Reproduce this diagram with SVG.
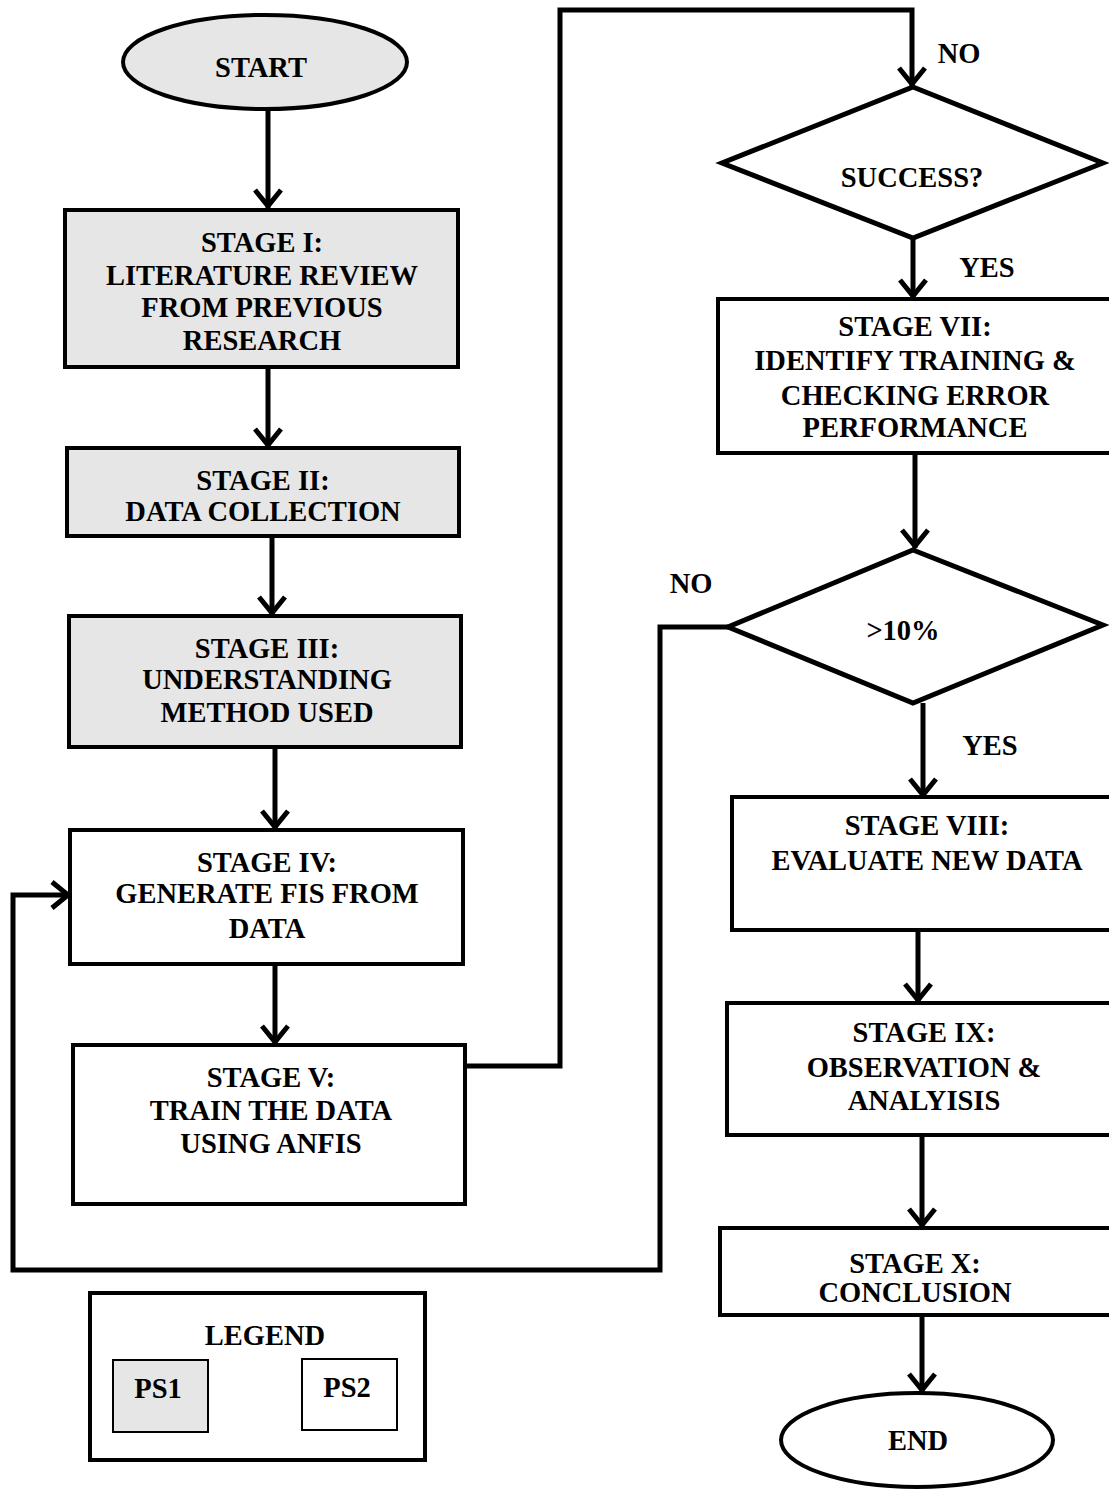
<svg xmlns="http://www.w3.org/2000/svg" width="1109" height="1490" viewBox="0 0 1109 1490">
  <style>
    .t { font-family: "Liberation Serif", "Times New Roman", serif; font-weight: bold; font-size: 28.5px; fill: #000; text-anchor: middle; }
    .box { stroke: #000; stroke-width: 4; }
    .ps1 { fill: #e6e6e6; }
    .ps2 { fill: #fff; }
    .dia { fill: #fff; stroke: #000; stroke-width: 5; stroke-linejoin: miter; }
    .conn { fill: none; stroke: #000; stroke-width: 5; }
    .arr { marker-end: url(#ah); }
  </style>
  <defs>
    <marker id="ah" markerUnits="userSpaceOnUse" viewBox="-22 -16 24 32" markerWidth="24" markerHeight="32" refX="0" refY="0" orient="auto" overflow="visible">
      <path d="M-18,-13 L-2,0 L-18,13" fill="none" stroke="#000" stroke-width="5"/>
    </marker>
  </defs>
  <rect width="1109" height="1490" fill="#fff"/>

  <g id="connectors">
    <path class="conn arr" d="M268,110 V208"/>
    <path class="conn arr" d="M268,368 V447"/>
    <path class="conn arr" d="M272,537 V615"/>
    <path class="conn arr" d="M275,748 V829"/>
    <path class="conn arr" d="M275,965 V1044"/>
    <path class="conn arr" d="M465,1066 H560 V10 H912 V86"/>
    <path class="conn arr" d="M913,238 V298"/>
    <path class="conn arr" d="M915,453 V548"/>
    <path class="conn arr" d="M923,703 V797"/>
    <path class="conn arr" d="M728,627 H660 V1270 H13 V895 H70"/>
    <path class="conn arr" d="M918,930 V1002"/>
    <path class="conn arr" d="M922,1135 V1227"/>
    <path class="conn arr" d="M922,1315 V1392"/>
  </g>

  <g id="start">
    <ellipse cx="265" cy="62" rx="142" ry="47" class="box ps1"/>
    <text class="t" x="261" y="77">START</text>
  </g>

  <g id="stage1">
    <rect x="65" y="210" width="393" height="157" class="box ps1"/>
    <text class="t" x="262" y="252">STAGE I:</text>
    <text class="t" x="262" y="285">LITERATURE REVIEW</text>
    <text class="t" x="262" y="317">FROM PREVIOUS</text>
    <text class="t" x="262" y="350">RESEARCH</text>
  </g>

  <g id="stage2">
    <rect x="67" y="448" width="392" height="88" class="box ps1"/>
    <text class="t" x="263" y="490">STAGE II:</text>
    <text class="t" x="263" y="521">DATA COLLECTION</text>
  </g>

  <g id="stage3">
    <rect x="69" y="616" width="392" height="131" class="box ps1"/>
    <text class="t" x="267" y="658">STAGE III:</text>
    <text class="t" x="267" y="689">UNDERSTANDING</text>
    <text class="t" x="267" y="722">METHOD USED</text>
  </g>

  <g id="stage4">
    <rect x="70" y="830" width="393" height="134" class="box ps2"/>
    <text class="t" x="267" y="872">STAGE IV:</text>
    <text class="t" x="267" y="903">GENERATE FIS FROM</text>
    <text class="t" x="267" y="938">DATA</text>
  </g>

  <g id="stage5">
    <rect x="73" y="1045" width="392" height="159" class="box ps2"/>
    <text class="t" x="271" y="1087">STAGE V:</text>
    <text class="t" x="271" y="1120">TRAIN THE DATA</text>
    <text class="t" x="271" y="1153">USING ANFIS</text>
  </g>

  <g id="success">
    <polygon class="dia" points="913,87 1103,163 913,238 722,163"/>
    <text class="t" x="912" y="187">SUCCESS?</text>
  </g>
  <g id="label-no-1"><text class="t" x="959" y="63">NO</text></g>
  <g id="label-yes-1"><text class="t" x="987" y="277">YES</text></g>

  <g id="stage7">
    <rect x="718" y="299" width="420" height="154" class="box ps2"/>
    <text class="t" x="915" y="336">STAGE VII:</text>
    <text class="t" x="915" y="370">IDENTIFY TRAINING &amp;</text>
    <text class="t" x="915" y="405">CHECKING ERROR</text>
    <text class="t" x="915" y="437">PERFORMANCE</text>
  </g>

  <g id="gt10">
    <polygon class="dia" points="913,550 1103,625 913,703 728,627"/>
    <text class="t" x="903" y="640">&gt;10%</text>
  </g>
  <g id="label-no-2"><text class="t" x="691" y="593">NO</text></g>
  <g id="label-yes-2"><text class="t" x="990" y="755">YES</text></g>

  <g id="stage8">
    <rect x="732" y="797" width="400" height="133" class="box ps2"/>
    <text class="t" x="927" y="835">STAGE VIII:</text>
    <text class="t" x="927" y="870">EVALUATE NEW DATA</text>
  </g>

  <g id="stage9">
    <rect x="727" y="1003" width="405" height="132" class="box ps2"/>
    <text class="t" x="924" y="1042">STAGE IX:</text>
    <text class="t" x="924" y="1077">OBSERVATION &amp;</text>
    <text class="t" x="924" y="1110">ANALYISIS</text>
  </g>

  <g id="stage10">
    <rect x="720" y="1228" width="412" height="87" class="box ps2"/>
    <text class="t" x="915" y="1273">STAGE X:</text>
    <text class="t" x="915" y="1302">CONCLUSION</text>
  </g>

  <g id="end">
    <ellipse cx="917" cy="1440" rx="136" ry="47" class="box ps2"/>
    <text class="t" x="918" y="1450">END</text>
  </g>

  <g id="legend">
    <rect x="90" y="1293" width="335" height="167" fill="#fff" stroke="#000" stroke-width="4"/>
    <text class="t" x="265" y="1345">LEGEND</text>
    <rect x="113" y="1360" width="95" height="72" class="ps1" stroke="#000" stroke-width="2"/>
    <text class="t" x="158" y="1398">PS1</text>
    <rect x="302" y="1359" width="95" height="71" class="ps2" stroke="#000" stroke-width="2"/>
    <text class="t" x="347" y="1397">PS2</text>
  </g>
</svg>
